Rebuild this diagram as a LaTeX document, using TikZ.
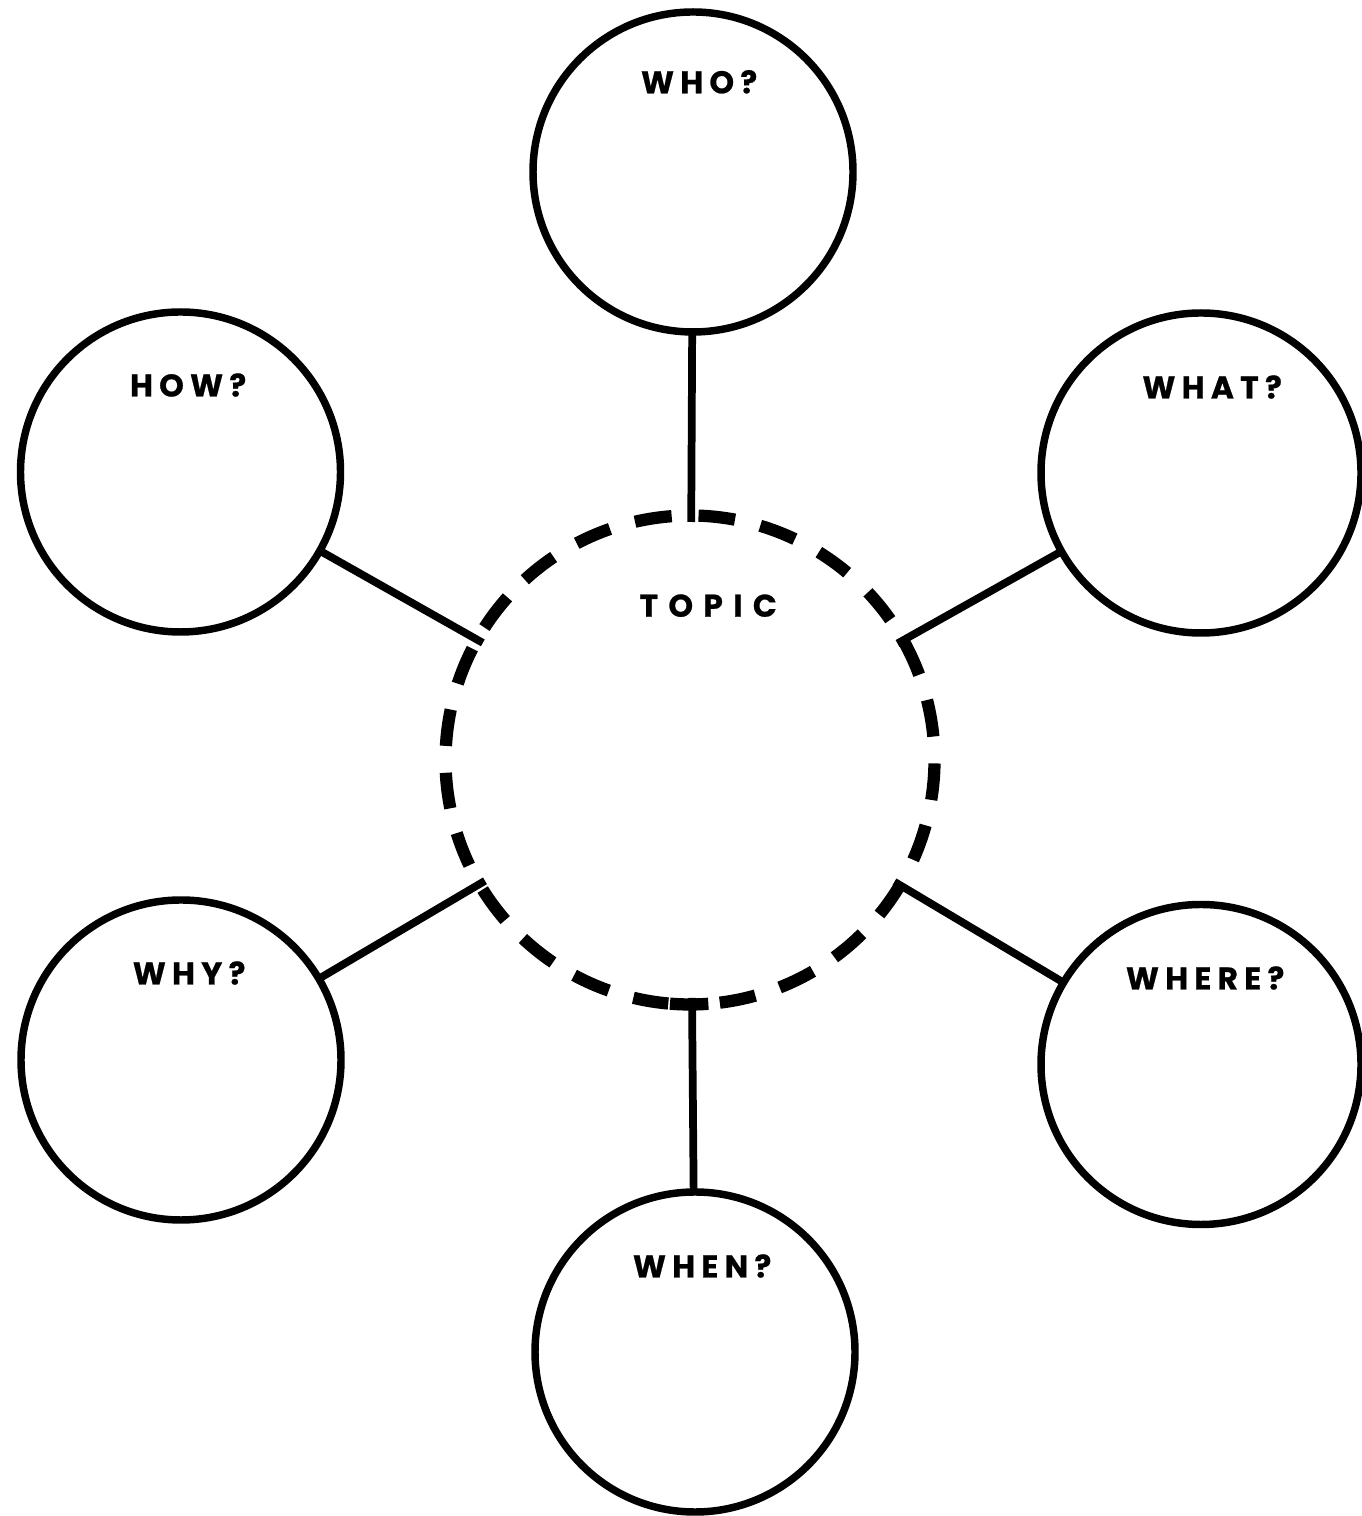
\documentclass[tikz,border=0pt]{standalone}
\usepackage{fontspec}
\setmainfont{Poppins}[LetterSpace=20,BoldFeatures={FakeBold=0.7}]
\begin{document}
\begin{tikzpicture}[x=0.75pt,y=0.75pt,
  bubble/.style={circle,draw=black,line width=5.6pt,minimum size=240pt,inner sep=0pt,outer sep=0pt},
  spoke/.style={draw=black,line width=5.8pt},
  ring/.style={draw=black,line width=9.2pt},
  label/.style={anchor=base,inner sep=0pt,font=\fontsize{23.5}{28}\selectfont\bfseries}]
% canvas (y measured upward, 1516 units tall)
\fill[white] (0,0) rectangle (1362,1516);
\useasboundingbox (0,0) rectangle (1362,1516);
\newcommand\tracked[1]{#1\kern-0.2em}

% central hub: invisible circle whose border sits on the inner edge of the ring
\node[circle,minimum size=357pt,inner sep=0pt,outer sep=0pt] (hub) at (690,756) {};

% outer bubbles
\node[bubble] (who)   at (693,1344) {};
\node[bubble] (how)   at (180.5,1044) {};
\node[bubble] (what)  at (1201,1043) {};
\node[bubble] (why)   at (181,456) {};
\node[bubble] (where) at (1201,451.5) {};
\node[bubble] (when)  at (695,164) {};

% spokes
\foreach \b in {who,how,what,why,where,when}
  \draw[spoke] (\b) -- (hub);

% dashed ring drawn as separate arcs
\foreach \a/\e in {79.4/88.0, 64.6/73.3, 50.0/58.2, 35.0/43.3, 20.4/29.2,
                   5.5/14.2, -9.4/-0.8, -24.1/-15.5, -39.2/-30.4, -53.8/-45.3,
                   -68.5/-59.8, -83.0/-74.5, -94.7/-85.7, -103.4/-95.1,
                   -118.3/-109.4, -133.1/-124.1, -148.0/-139.1, -162.6/-154.5,
                   -177.0/-168.6, 168.1/176.7, 152.9/161.8, 138.3/147.2,
                   123.9/132.5, 109.1/117.6, 94.3/103.0}
  \draw[ring] ([shift={(\a:244.5)}]hub.center) arc[start angle=\a,end angle=\e,radius=244.5];

% labels
\node[label] (lbl-topic) at (703,899.3) {\addfontfeature{LetterSpace=33}TOPIC\kern-0.33em};
\node[label] (lbl-who)   at (696,1422.7) {\tracked{WHO?}};
\node[label] (lbl-how)   at (185,1119.5) {\tracked{HOW?}};
\node[label] (lbl-what)  at (1209,1117.5) {\tracked{WHAT?}};
\node[label] (lbl-why)   at (186,531.5) {\tracked{WHY?}};
\node[label] (lbl-where) at (1202,526.5) {\tracked{WHERE?}};
\node[label] (lbl-when)  at (699,238.5) {\tracked{WHEN?}};
\end{tikzpicture}
\end{document}
